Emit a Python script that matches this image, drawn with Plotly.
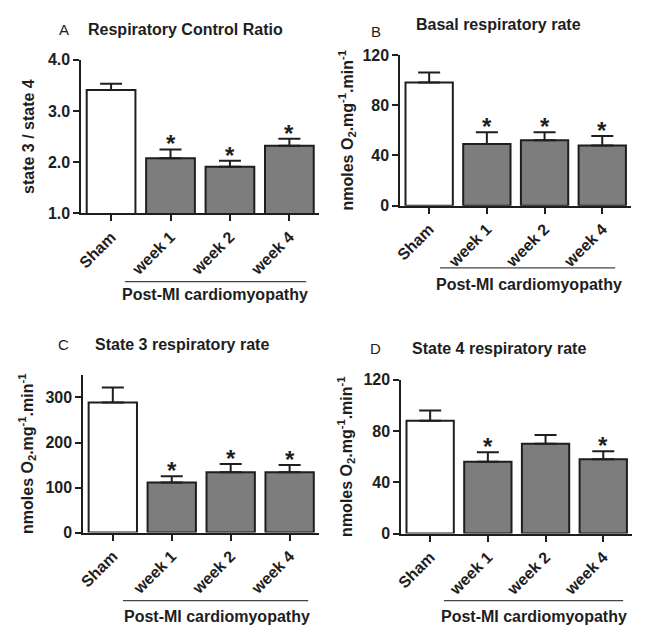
import plotly.graph_objects as go

# Reference canvas size and page offset (default body margin of the html page)
W, H = 651, 641
OFF = 8
FW, FH = W - 2 * OFF, H - 2 * OFF

categories = ["Sham", "week 1", "week 2", "week 4"]

rcr_mean = [3.41, 2.08, 1.91, 2.32]
rcr_sem = [0.12, 0.17, 0.12, 0.14]
basal_mean = [98, 49, 52, 48]
basal_sem = [8, 9.5, 6.5, 7.5]
state3_mean = [289, 111, 134, 134]
state3_sem = [33, 14, 18, 16]
state4_mean = [88, 56, 70, 58]
state4_sem = [8, 7.5, 7, 6.3]

sig_rcr = [False, True, True, True]
sig_basal = [False, True, True, True]
sig_state3 = [False, True, True, True]
sig_state4 = [False, True, False, True]

bar_colors = ["white", "#7d7d7d", "#7d7d7d", "#7d7d7d"]

FONT = "Liberation Sans, Arial, sans-serif"
INK = "#1e1e1e"

o2_title = "nmoles O<sub>2</sub>.mg<sup>-1</sup>.min<sup>-1</sup>"

panels = [
    dict(letter="A", title="Respiratory Control Ratio", mean=rcr_mean, sem=rcr_sem, sig=sig_rcr,
         ytitle="state 3 / state 4", yrange=[1, 4], tickvals=[1, 2, 3, 4], ticktext=["1.0", "2.0", "3.0", "4.0"],
         box=(76, 316, 53, 211), letter_pos=(58, 22), title_pos=(81, 22, "left"),
         line=(120, 303, 281), label=(211, 294), standoff=9),
    dict(letter="B", title="Basal respiratory rate", mean=basal_mean, sem=basal_sem, sig=sig_basal,
         ytitle=o2_title, yrange=[0, 120], tickvals=[0, 40, 80, 120], ticktext=["0", "40", "80", "120"],
         box=(398, 631, 48, 203), letter_pos=(373, 24), title_pos=(497, 17, "center"),
         line=(438, 615, 267), label=(528, 284), standoff=5),
    dict(letter="C", title="State 3 respiratory rate", mean=state3_mean, sem=state3_sem, sig=sig_state3,
         ytitle=o2_title, yrange=[0, 350], tickvals=[0, 100, 200, 300], ticktext=["0", "100", "200", "300"],
         box=(78, 316, 377, 539), letter_pos=(58, 346), title_pos=(88, 346, "left"),
         line=(118, 305, 609), label=(213, 625), standoff=8),
    dict(letter="D", title="State 4 respiratory rate", mean=state4_mean, sem=state4_sem, sig=sig_state4,
         ytitle=o2_title, yrange=[0, 120], tickvals=[0, 40, 80, 120], ticktext=["0", "40", "80", "120"],
         box=(399, 632, 382, 540), letter_pos=(373, 350), title_pos=(408, 350, "left"),
         line=(442, 623, 609), label=(533, 625), standoff=7),
]


def px(x):
    return (x - OFF) / FW


def py(y):
    return 1 - (y - OFF) / FH


fig = go.Figure()
annotations = []
shapes = []

for i, p in enumerate(panels):
    n = i + 1
    xa = "x" if n == 1 else f"x{n}"
    ya = "y" if n == 1 else f"y{n}"
    x0, x1, y0, y1 = p["box"]
    fig.add_trace(go.Bar(
        x=categories, y=p["mean"], xaxis=xa, yaxis=ya,
        marker=dict(color=bar_colors, line=dict(color=INK, width=2)),
        error_y=dict(type="data", array=p["sem"], arrayminus=[0] * 4, symmetric=False,
                     color=INK, thickness=2, width=11),
        showlegend=False, hoverinfo="skip",
    ))
    axkey_x = "xaxis" if n == 1 else f"xaxis{n}"
    axkey_y = "yaxis" if n == 1 else f"yaxis{n}"
    fig.update_layout(**{
        axkey_x: dict(domain=[px(x0), px(x1)], anchor=ya, type="category", range=[-0.5, 3.5],
                      tickvals=categories, ticktext=categories,
                      showline=True, linecolor=INK, linewidth=2, ticks="outside", ticklen=6,
                      tickwidth=2, tickcolor=INK, tickangle=-45, showgrid=False, zeroline=False,
                      tickfont=dict(family=FONT, size=16, color=INK, weight="bold")),
        axkey_y: dict(domain=[py(y1), py(y0)], anchor=xa, range=p["yrange"],
                      tickvals=p["tickvals"], ticktext=p["ticktext"],
                      showline=True, linecolor=INK, linewidth=2, ticks="outside", ticklen=6,
                      tickwidth=2, tickcolor=INK, showgrid=False, zeroline=False,
                      tickfont=dict(family=FONT, size=16, color=INK, weight="bold"),
                      title=dict(text=p["ytitle"], standoff=p["standoff"],
                                 font=dict(family=FONT, size=16, color=INK, weight="bold"))),
    })

    # significance stars
    for c, m, s, sg in zip(categories, p["mean"], p["sem"], p["sig"]):
        if sg:
            annotations.append(dict(x=c, y=m + s, xref=xa, yref=ya, text="*", showarrow=False,
                                    yanchor="bottom", yshift=-10,
                                    font=dict(family=FONT, size=24, color=INK, weight="bold")))
    # panel letter & title
    lx, ly = p["letter_pos"]
    annotations.append(dict(x=px(lx), y=py(ly), xref="paper", yref="paper", text=p["letter"],
                            showarrow=False, xanchor="center", yanchor="middle",
                            font=dict(family=FONT, size=15, color=INK)))
    tx, ty, tanchor = p["title_pos"]
    annotations.append(dict(x=px(tx), y=py(ty), xref="paper", yref="paper", text=p["title"],
                            showarrow=False, xanchor=tanchor, yanchor="middle",
                            font=dict(family=FONT, size=16, color=INK, weight="bold")))
    # group bracket line & label
    lx0, lx1, lyy = p["line"]
    shapes.append(dict(type="line", xref="paper", yref="paper", x0=px(lx0), x1=px(lx1),
                       y0=py(lyy), y1=py(lyy), line=dict(color="#444", width=1.2)))
    gx, gy = p["label"]
    annotations.append(dict(x=px(gx), y=py(gy), xref="paper", yref="paper",
                            text="Post-MI cardiomyopathy", showarrow=False,
                            xanchor="center", yanchor="middle",
                            font=dict(family=FONT, size=16, color=INK, weight="bold")))

fig.update_layout(width=FW, height=FH, margin=dict(l=0, r=0, t=0, b=0),
                  paper_bgcolor="white", plot_bgcolor="white", bargap=0.18,
                  annotations=annotations, shapes=shapes)

fig.write_html("out.html")
